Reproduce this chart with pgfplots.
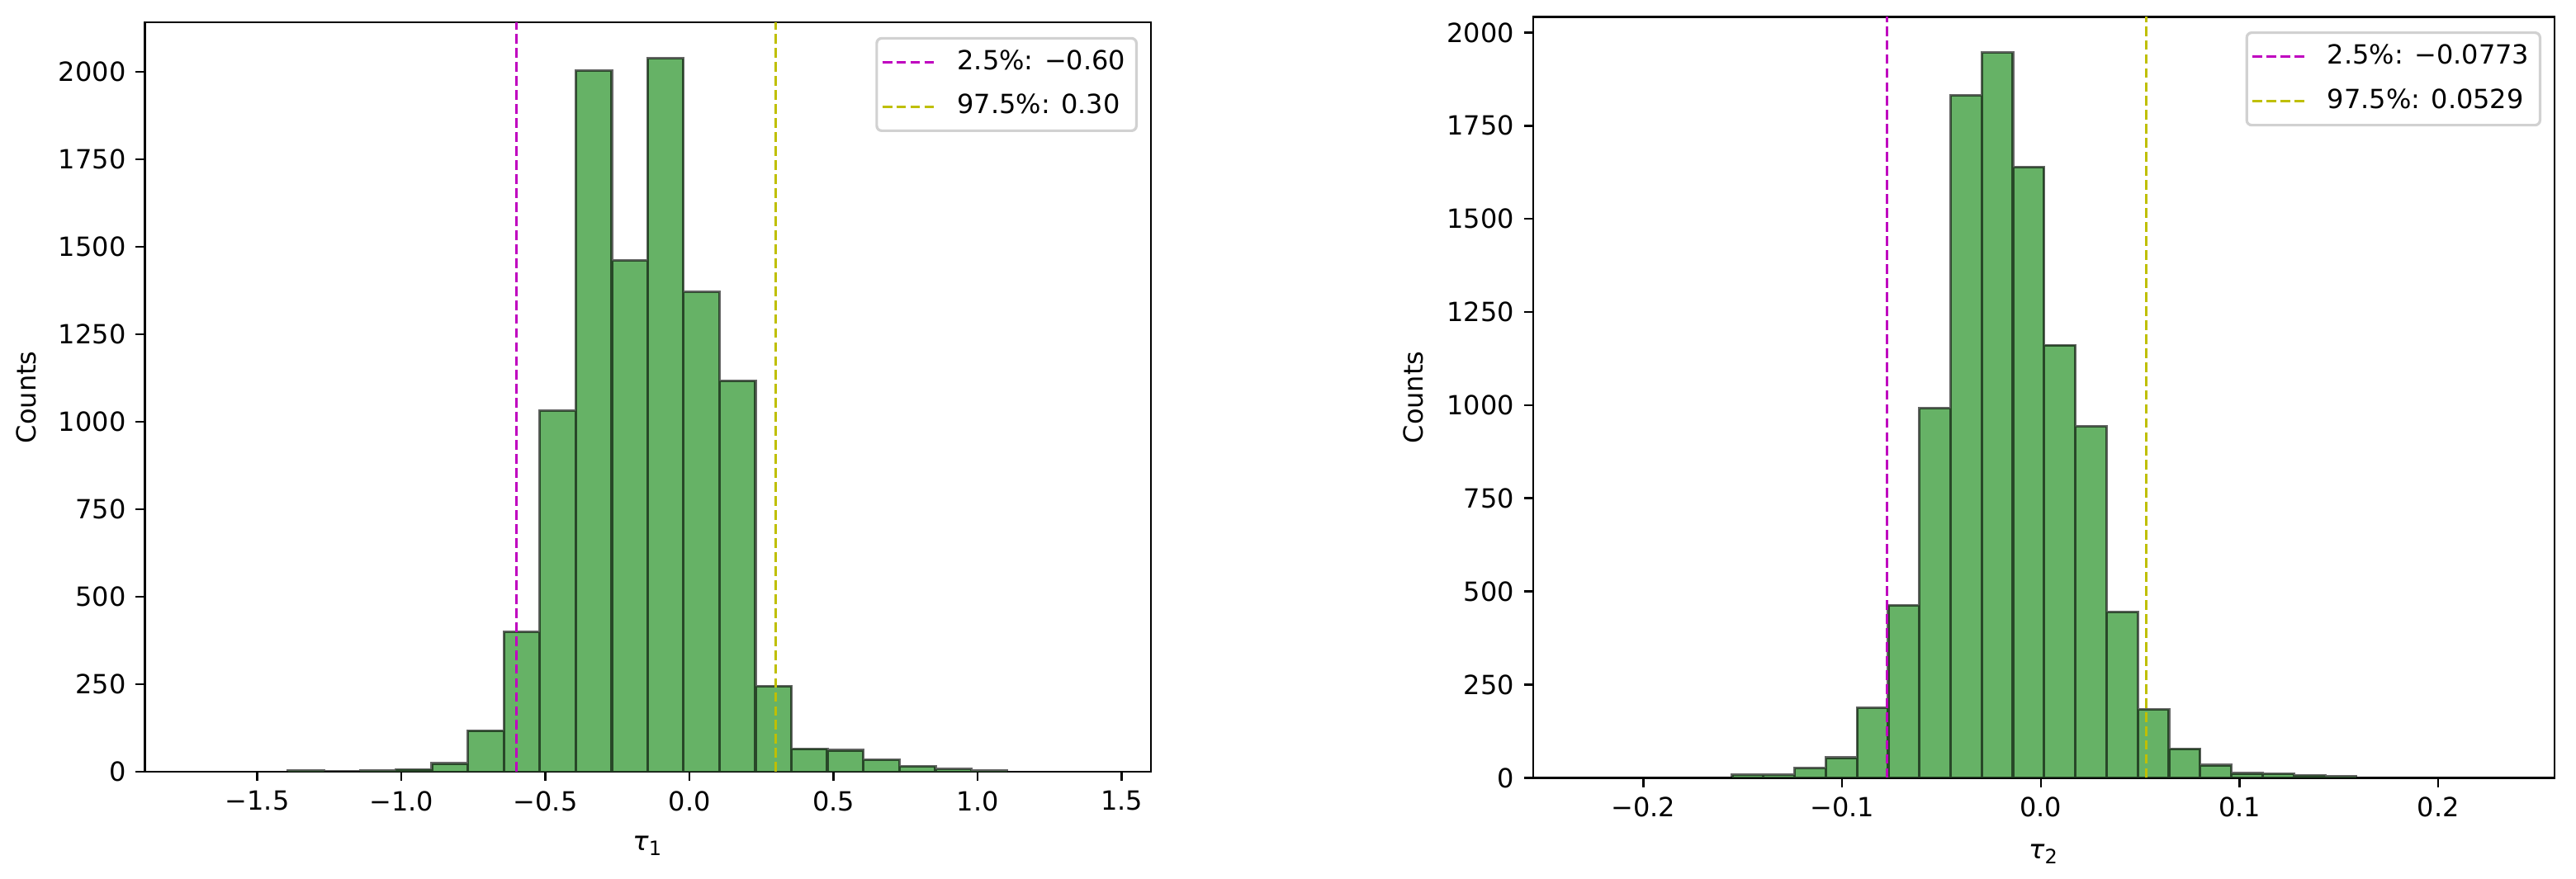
\documentclass[border=0pt]{standalone}
\usepackage{fontspec}
\setmainfont{DejaVu Sans}
\usepackage{pgfplots}
\pgfplotsset{compat=1.18}

\definecolor{histgreen}{rgb}{0.4,0.7,0.4}
\definecolor{mplm}{rgb}{0.75,0,0.75}
\definecolor{mply}{rgb}{0.75,0.75,0}

\newcommand{\fs}{\fontsize{8}{9.6}\selectfont}

\pgfplotsset{
  histaxis/.style={
    scale only axis,
    anchor=south west,
    axis line style={line width=0.64pt},
    every tick/.style={line width=0.64pt, black},
    major tick length=2.8pt,
    tick align=outside,
    tick pos=left,
    ymin=0,
    ytick={0,250,...,2000},
    yticklabels={0,250,500,750,1000,1250,1500,1750,2000},
    ticklabel style={font=\fs},
    xticklabel style={inner sep=0pt, yshift=-2.8pt},
    yticklabel style={inner sep=0pt, xshift=-2.8pt},
    label style={font=\fs},
    ylabel={Counts},
    legend style={
      at={(axis description cs:1,1)}, anchor=north east,
      xshift=-4pt, yshift=-4.4pt,
      draw=black!18, line width=0.8pt, rounded corners=1.5pt,
      fill=white, font=\fs,
      inner xsep=1.3pt, inner ysep=1.6pt,
      column sep=3.5pt, row sep=2.2pt,
      nodes={inner sep=2pt, text height=5.8pt, text depth=1.5pt},
    },
    legend cell align=left,
    legend image code/.code={\draw[#1] (0pt,0pt) -- (16.8pt,0pt);},
  },
  histbars/.style={ybar interval, fill=histgreen, draw=black, draw opacity=0.6,
    line width=0.8pt, forget plot},
  qline/.style={line width=0.8pt, dash pattern=on 2.96pt off 1.28pt},
}

\begin{document}
\begin{tikzpicture}
\useasboundingbox (0,0) rectangle (780pt,266pt);

% left panel: tau_1
\begin{axis}[histaxis,
    at={(43.9pt,32.2pt)}, width=304.6pt, height=227pt,
    xmin=-1.8895, xmax=1.601, ymax=2141,
    xtick={-1.5,-1,-0.5,0,0.5,1,1.5},
    xticklabels={−1.5,−1.0,−0.5,0.0,0.5,1.0,1.5},
    xlabel={\textit{τ}\textsubscript{1}},
    xlabel style={at={(axis description cs:0.5,-0.0985)}, anchor=center},
    ylabel style={at={(axis description cs:-0.1179,0.5)}, anchor=center},
  ]
  \addplot[histbars] coordinates {
    (-1.393,4) (-1.268,1) (-1.143,4) (-1.019,7) (-0.894,24)
    (-0.769,118) (-0.644,400) (-0.520,1032) (-0.395,2003) (-0.270,1461)
    (-0.146,2038) (-0.021,1371) (0.104,1117) (0.229,245) (0.354,66)
    (0.478,62) (0.603,35) (0.728,16) (0.853,8) (0.977,3) (1.102,3)
  };
  \addplot[qline, mplm] coordinates {(-0.60,0) (-0.60,2141)};
  \addlegendentry{2.5\%: −0.60}
  \addplot[qline, mply] coordinates {(0.30,0) (0.30,2141)};
  \addlegendentry{97.5\%: 0.30}
\end{axis}

% right panel: tau_2
\begin{axis}[histaxis,
    at={(464.25pt,30.4pt)}, width=309.25pt, height=230.5pt,
    xmin=-0.2554, xmax=0.2585, ymax=2042,
    xtick={-0.2,-0.1,0,0.1,0.2},
    xticklabels={−0.2,−0.1,0.0,0.1,0.2},
    xlabel={\textit{τ}\textsubscript{2}},
    xlabel style={at={(axis description cs:0.5,-0.1001)}, anchor=center},
    ylabel style={at={(axis description cs:-0.1175,0.5)}, anchor=center},
  ]
  \addplot[histbars] coordinates {
    (-0.1553,8) (-0.1396,8) (-0.1239,26) (-0.1082,54) (-0.0925,188)
    (-0.0768,463) (-0.0611,992) (-0.0454,1831) (-0.0297,1946) (-0.0140,1639)
    (0.0017,1161) (0.0174,943) (0.0331,445) (0.0488,184) (0.0645,78)
    (0.0802,34) (0.0959,12) (0.1116,11) (0.1273,7) (0.1430,4) (0.1587,4)
  };
  \addplot[qline, mplm] coordinates {(-0.0773,0) (-0.0773,2042)};
  \addlegendentry{2.5\%: −0.0773}
  \addplot[qline, mply] coordinates {(0.0529,0) (0.0529,2042)};
  \addlegendentry{97.5\%: 0.0529}
\end{axis}
\end{tikzpicture}
\end{document}
